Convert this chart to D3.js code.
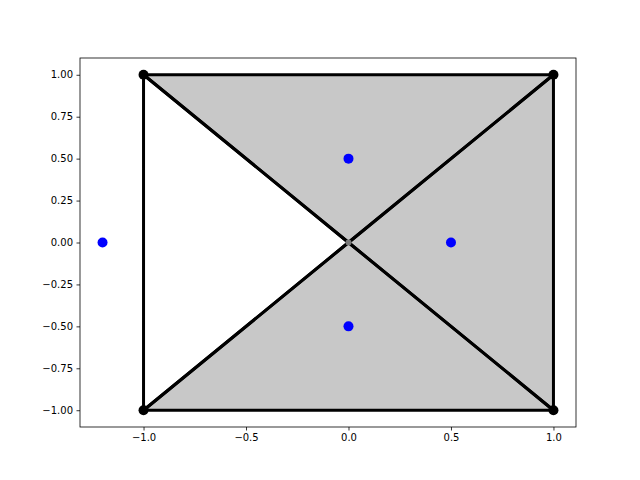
<!DOCTYPE html>
<html><head><meta charset="utf-8">
<script src="https://cdn.jsdelivr.net/npm/d3@7"></script>
<style>body{margin:0;background:#fff}svg{display:block}</style>
</head><body><svg id="c" width="640" height="480"></svg>
<script>
const vertices = [[-1,1],[1,1],[1,-1],[-1,-1],[0,0]];
const triangles = [[0,1,4],[1,2,4],[2,3,4],[3,0,4]];
const filled = [true,true,true,false];
const points = [[0,0.5],[0.5,0],[0,-0.5],[-1.2,0]];
const xTicks = [-1.0,-0.5,0.0,0.5,1.0];
const yTicks = [-1.0,-0.75,-0.5,-0.25,0.0,0.25,0.5,0.75,1.0];

const L=80,R=576,T=58,B=427;
const x=d3.scaleLinear().domain([-1.31,1.11]).range([L,R]);
const y=d3.scaleLinear().domain([-1.1,1.1]).range([B,T]);
const svg=d3.select("#c");
const g=svg.append("g");
const line=d3.line().x(d=>x(d[0])).y(d=>y(d[1]));
g.selectAll("path.tri").data(triangles.filter((t,i)=>filled[i])).join("path")
 .attr("d",t=>line(t.map(i=>vertices[i]))+"Z").attr("fill","#c8c8c8").attr("stroke","none");
g.selectAll("path.edge").data(triangles).join("path")
 .attr("d",t=>line(t.map(i=>vertices[i]))+"Z").attr("fill","none").attr("stroke","#000")
 .attr("stroke-width",3).attr("stroke-linejoin","round");
g.selectAll("circle.v").data(vertices).join("circle")
 .attr("cx",d=>x(d[0])).attr("cy",d=>y(d[1]))
 .attr("r",d=>(d[0]===0&&d[1]===0)?3:5)
 .attr("fill",d=>(d[0]===0&&d[1]===0)?"#777":"#000");
g.selectAll("circle.p").data(points).join("circle")
 .attr("cx",d=>x(d[0])).attr("cy",d=>y(d[1])).attr("r",5).attr("fill","#0000ff");

const xa=svg.append("g").attr("transform",`translate(0,${B})`)
 .call(d3.axisBottom(x).tickValues(xTicks).tickFormat(d3.format(".1f")).tickSize(3.5).tickPadding(3.5));
const ya=svg.append("g").attr("transform",`translate(${L},0)`)
 .call(d3.axisLeft(y).tickValues(yTicks).tickFormat(d3.format(".2f")).tickSize(3.5).tickPadding(3.5));
[xa,ya].forEach(a=>{a.select(".domain").remove();a.selectAll("text").attr("font-family","DejaVu Sans").attr("font-size",10).attr("fill","#000");a.selectAll("line").attr("stroke","#000").attr("stroke-width",0.8);});
xa.selectAll("text").text(d=>d3.format(".1f")(d).replace("-","\u2212"));
ya.selectAll("text").text(d=>d3.format(".2f")(d).replace("-","\u2212"));
svg.append("rect").attr("x",L).attr("y",T).attr("width",R-L).attr("height",B-T)
 .attr("fill","none").attr("stroke","#000").attr("stroke-width",0.8);
</script></body></html>
